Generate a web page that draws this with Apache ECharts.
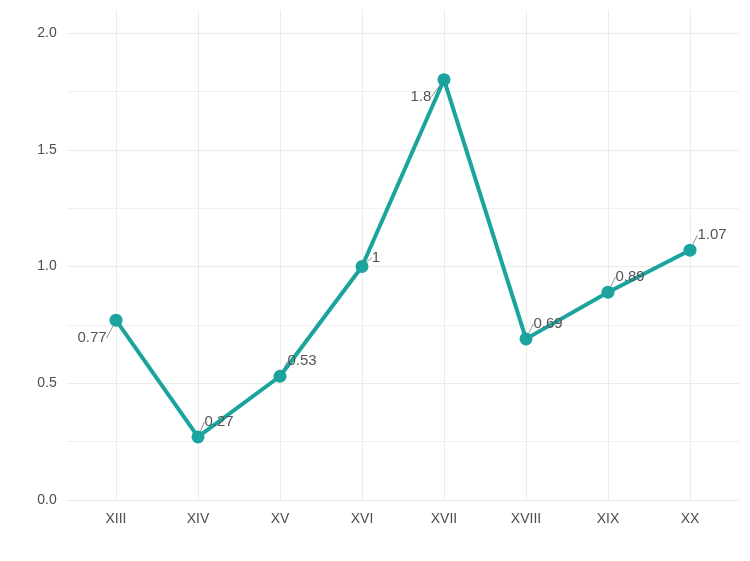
<!DOCTYPE html>
<html>
<head>
<meta charset="utf-8">
<script src="https://cdn.jsdelivr.net/npm/echarts@6/dist/echarts.min.js"></script>
<style>
  html, body { margin: 0; padding: 0; background: #fff; }
  #main { width: 750px; height: 561px; }
</style>
</head>
<body>
<div id="main"></div>
<script>
  // centuries and values
  var centuries = ['XIII', 'XIV', 'XV', 'XVI', 'XVII', 'XVIII', 'XIX', 'XX']
  var values = [0.77, 0.27, 0.53, 1, 1.8, 0.69, 0.89, 1.07]
  var yTicks = [0, 0.5, 1, 1.5, 2]

  // where each label sits relative to its point (px), like ggrepel did
  var nudge = [[-24, 18], [21, -15], [22, -15], [14, -9], [-23, 17], [22, -15], [22, -15], [22, -15]]

  var lineColor = '#1ba39d'
  var gridColor = '#ebebeb'
  var font = 'Liberation Sans, Arial, sans-serif'

  var myChart = echarts.init(document.getElementById('main'))

  var option = {
    animation: false,
    backgroundColor: '#fff',
    grid: [
      // panel for horizontal grid lines + y labels
      { left: 66.8, right: 10.8, top: 33, bottom: 61 },
      // panel for vertical grid lines + x labels
      { left: 116, right: 60, top: 10, bottom: 61 },
      // data
      { left: 116, right: 60, top: 33, bottom: 61 }
    ],
    xAxis: [
      { gridIndex: 0, type: 'value', show: false, min: 0, max: 1 },
      {
        gridIndex: 1,
        type: 'category',
        data: centuries,
        boundaryGap: false,
        axisLine: { show: false },
        axisTick: { show: false },
        axisLabel: { color: '#4d4d4d', fontSize: 14, fontFamily: font, margin: 12 },
        splitLine: { show: true, lineStyle: { color: gridColor, width: 1 } }
      },
      { gridIndex: 2, type: 'category', data: centuries, boundaryGap: false, show: false }
    ],
    yAxis: [
      {
        gridIndex: 0,
        type: 'value',
        min: yTicks[0],
        max: yTicks[yTicks.length - 1],
        interval: 0.5,
        axisLine: { show: false },
        axisTick: { show: false },
        axisLabel: {
          color: '#4d4d4d', fontSize: 14, fontFamily: font, margin: 10,
          padding: [5, 0, 0, 0],
          formatter: function (v) { return v.toFixed(1) }
        },
        splitLine: { show: true, lineStyle: { color: gridColor, width: 1 } },
        minorTick: { show: false, splitNumber: 2 },
        minorSplitLine: { show: true, lineStyle: { color: '#f0f0f0', width: 1 } }
      },
      { gridIndex: 1, type: 'value', show: false, min: 0, max: 1 },
      { gridIndex: 2, type: 'value', show: false, min: 0, max: 2 }
    ],
    series: [{
      type: 'line',
      xAxisIndex: 2,
      yAxisIndex: 2,
      data: values,
      symbol: 'circle',
      symbolSize: 13,
      lineStyle: { color: lineColor, width: 4 },
      itemStyle: { color: lineColor },
      label: {
        show: true,
        position: 'inside',
        color: '#555555',
        fontSize: 15,
        fontFamily: font
      },
      labelLine: { show: true, lineStyle: { color: '#777777', width: 0.8 } },
      labelLayout: function (params) {
        var n = nudge[params.dataIndex]
        return { dx: n[0], dy: n[1] }
      }
    }]
  }

  myChart.setOption(option)
</script>
</body>
</html>
